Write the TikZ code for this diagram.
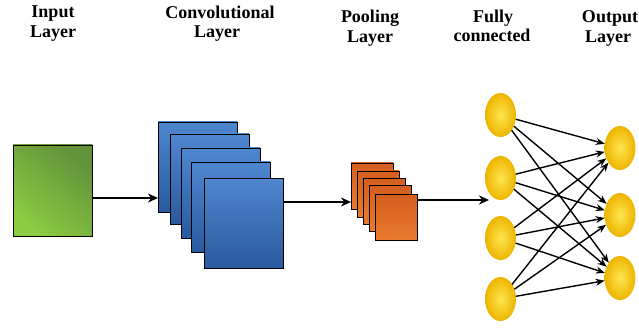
\documentclass[tikz,border=0pt]{standalone}
\usepackage{fontspec}
\setmainfont{Liberation Serif}
\newfontfamily\ttlfont{Liberation Serif}
\usetikzlibrary{shapes.geometric,arrows.meta}
\definecolor{gdark}{HTML}{62923A}
\definecolor{gmid}{HTML}{80C040}
\definecolor{glight}{HTML}{8CCB42}
\definecolor{btop}{HTML}{4E86CF}
\definecolor{bbot}{HTML}{2A5A9E}
\definecolor{otop}{HTML}{D55E1E}
\definecolor{obot}{HTML}{E97A2F}
\definecolor{yin}{HTML}{FFE650}
\definecolor{yout}{HTML}{EDB400}
\begin{document}
\begin{tikzpicture}[x=1pt,y=-1pt,
  lbl/.style={font=\ttlfont\fontsize{18}{20}\selectfont\bfseries, inner sep=0, anchor=base},
  box/.style={draw=black, line width=0.9pt, inner sep=0, outer sep=0, anchor=north west},
  inbox/.style={box, minimum width=79pt, minimum height=91pt,
     top color=gdark, middle color=gmid, bottom color=glight, shading angle=-40},
  convbox/.style={box, minimum width=79pt, minimum height=90pt,
     top color=btop, bottom color=bbot},
  poolbox/.style={box, minimum width=42pt, minimum height=46pt,
     top color=otop, bottom color=obot},
  neuron/.style={ellipse, inner sep=0, outer sep=0, minimum width=31pt, minimum height=44pt,
     shading=radial, inner color=yin, outer color=yout},
  bigarrow/.style={line width=2.4pt, -{Stealth[length=10pt,width=9pt]}},
  link/.style={line width=1.4pt, -{Stealth[length=9pt,width=7pt]}}
]
\useasboundingbox (0,0) rectangle (639,331);

% titles
\node[lbl] (t1a) at (53,18) {Input};
\node[lbl] (t1b) at (53,38) {Layer};
\node[lbl] (t2a) at (220,19) {Convolutional};
\node[lbl] (t2b) at (217,38) {Layer};
\node[lbl] (t3a) at (370,23) {Pooling};
\node[lbl] (t3b) at (370,43) {Layer};
\node[lbl] (t4a) at (493,23) {Fully};
\node[lbl] (t4b) at (492,42) {connected};
\node[lbl] (t5a) at (610,23) {Output};
\node[lbl] (t5b) at (608,43) {Layer};

% input
\node[inbox] (in) at (13,145) {};

% convolution stack
\node[convbox] (c1) at (158,122) {};
\node[convbox] (c2) at (170,134) {};
\node[convbox] (c3) at (181,148) {};
\node[convbox] (c4) at (191,162) {};
\node[convbox] (c5) at (204,178) {};

% pooling stack
\node[poolbox] (p1) at (351,163) {};
\node[poolbox] (p2) at (357,171) {};
\node[poolbox] (p3) at (363,178) {};
\node[poolbox] (p4) at (369,185) {};
\node[poolbox] (p5) at (375,194) {};

% neurons
\node[neuron] (l1) at (500.5,115) {};
\node[neuron] (l2) at (500.5,178) {};
\node[neuron] (l3) at (500.5,238) {};
\node[neuron] (l4) at (500.5,299) {};
\node[neuron] (r1) at (620,148) {};
\node[neuron] (r2) at (620,215) {};
\node[neuron] (r3) at (620,278) {};

\coordinate (fcin) at (489,200);

% main arrows
\draw[bigarrow] ([yshift=-7.5pt]in.east) -- ([yshift=-7.5pt]in.east -| c1.west);
\draw[bigarrow] ([yshift=21pt]c5.east) -- ([yshift=21pt]c5.east -| p1.west);
\draw[bigarrow] ([yshift=17pt]p5.east) -- (fcin);

% fully connected links
\foreach \a in {l1,l2,l3,l4}{
  \foreach \b in {r1,r2,r3}{
    \draw[link] (\a) -- (\b);
  }
}
\end{tikzpicture}
\end{document}
